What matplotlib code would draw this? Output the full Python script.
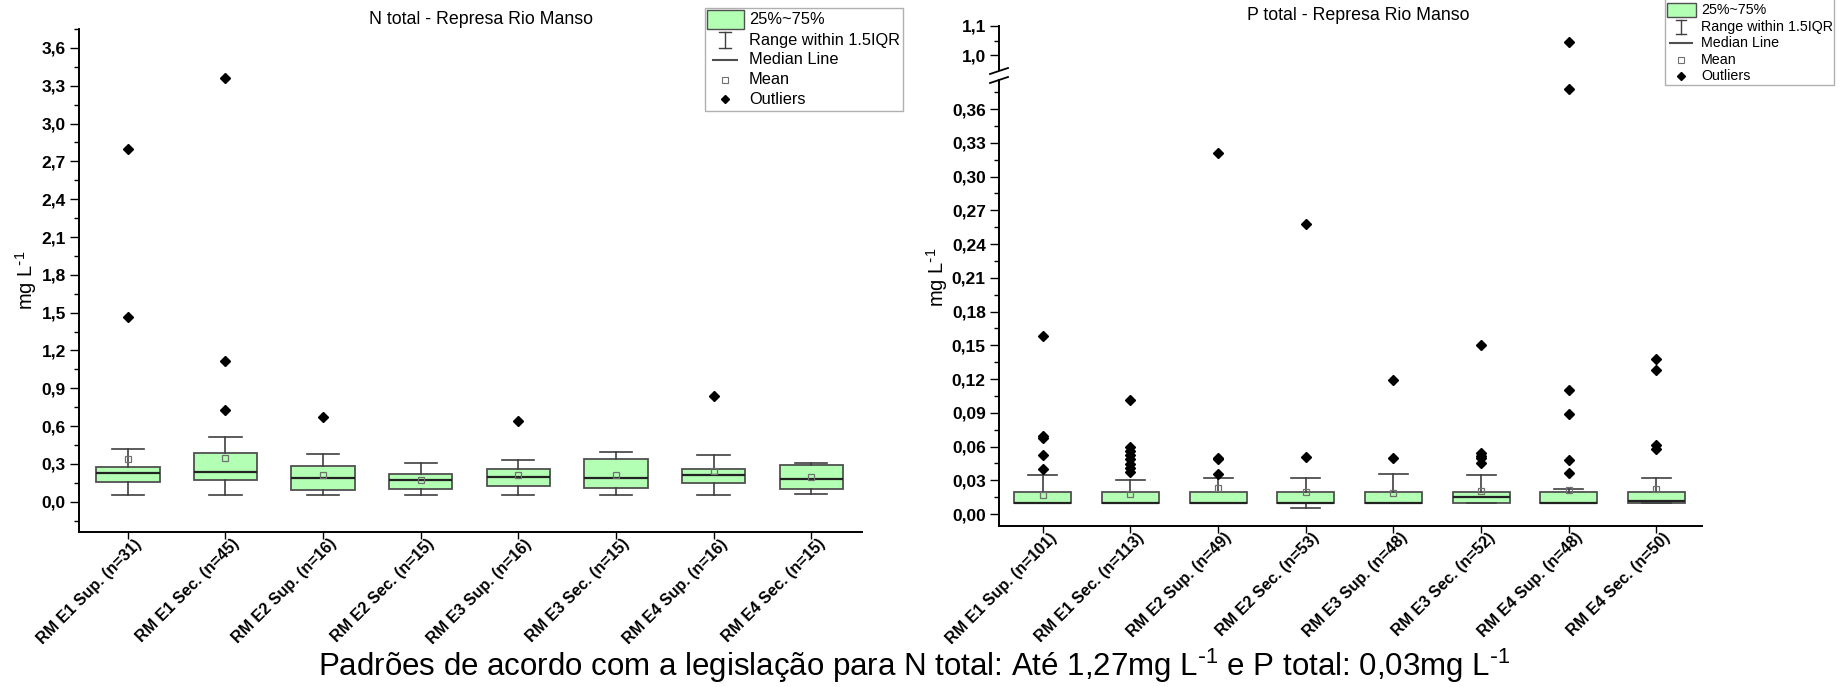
import numpy as np
import matplotlib
matplotlib.use("Agg")
import matplotlib.pyplot as plt
from matplotlib.lines import Line2D
from matplotlib.patches import Rectangle
from matplotlib.ticker import MultipleLocator, FuncFormatter
from matplotlib.transforms import ScaledTranslation

plt.rcParams['font.family'] = ['Liberation Sans', 'DejaVu Sans']
plt.rcParams['mathtext.default'] = 'regular'

# N total
n_labels = ["RM E1 Sup. (n=31)", "RM E1 Sec. (n=45)", "RM E2 Sup. (n=16)", "RM E2 Sec. (n=15)",
            "RM E3 Sup. (n=16)", "RM E3 Sec. (n=15)", "RM E4 Sup. (n=16)", "RM E4 Sec. (n=15)"]
n_q1 = [0.159, 0.175, 0.096, 0.104, 0.123, 0.112, 0.147, 0.100]
n_med = [0.225, 0.233, 0.186, 0.175, 0.194, 0.192, 0.213, 0.180]
n_q3 = [0.273, 0.388, 0.283, 0.222, 0.262, 0.342, 0.257, 0.292]
n_whislo = [0.053, 0.051, 0.050, 0.050, 0.050, 0.050, 0.050, 0.062]
n_whishi = [0.421, 0.516, 0.380, 0.310, 0.334, 0.391, 0.371, 0.311]
n_mean = [0.336, 0.348, 0.214, 0.170, 0.211, 0.211, 0.243, 0.195]
n_fliers = [[2.80, 1.462], [3.36, 1.12, 0.731], [0.671], [], [0.641], [], [0.84], []]

# P total
p_labels = ["RM E1 Sup. (n=101)", "RM E1 Sec. (n=113)", "RM E2 Sup. (n=49)", "RM E2 Sec. (n=53)",
            "RM E3 Sup. (n=48)", "RM E3 Sec. (n=52)", "RM E4 Sup. (n=48)", "RM E4 Sec. (n=50)"]
p_q1 = [0.010, 0.010, 0.010, 0.010, 0.010, 0.010, 0.010, 0.010]
p_med = [0.010, 0.010, 0.010, 0.010, 0.010, 0.015, 0.010, 0.012]
p_q3 = [0.020, 0.020, 0.020, 0.020, 0.020, 0.020, 0.020, 0.020]
p_whislo = [0.010, 0.010, 0.010, 0.005, 0.010, 0.010, 0.010, 0.010]
p_whishi = [0.0344, 0.030, 0.032, 0.032, 0.0352, 0.0343, 0.0222, 0.032]
p_mean = [0.017, 0.0177, 0.023, 0.0199, 0.0187, 0.0208, 0.021, 0.022]
p_fliers = [[0.158, 0.0697, 0.0676, 0.0526, 0.040],
            [0.101, 0.060, 0.0561, 0.0526, 0.0487, 0.0445, 0.0413, 0.0377],
            [0.321, 0.0497, 0.049, 0.0358],
            [0.258, 0.0508],
            [0.119, 0.0499],
            [0.150, 0.0544, 0.052, 0.0499, 0.045],
            [1.044, 0.378, 0.110, 0.089, 0.0477, 0.0367],
            [0.138, 0.128, 0.0615, 0.0578]]

legend_labels = ["25%~75%", "Range within 1.5IQR", "Median Line", "Mean", "Outliers"]
unit = r"mg L$^{\text{-}1}$"
caption = (r"Padrões de acordo com a legislação para N total: Até 1,27mg L$^{\text{-}1}$"
           r" e P total: 0,03mg L$^{\text{-}1}$")


def make_stats(q1, med, q3, lo, hi, mean, fl):
    return [dict(q1=a, med=b, q3=c, whislo=d, whishi=e, mean=f, fliers=g)
            for a, b, c, d, e, f, g in zip(q1, med, q3, lo, hi, mean, fl)]


box_green = '#b3ffb3'
box_edge = '#505050'
box_style = dict(widths=0.65, capwidths=0.33, patch_artist=True, showmeans=True,
                 boxprops=dict(facecolor=box_green, edgecolor=box_edge, linewidth=1.3),
                 medianprops=dict(color='#222222', linewidth=1.6),
                 whiskerprops=dict(color='#404040', linewidth=1.2),
                 capprops=dict(color='#404040', linewidth=1.2),
                 meanprops=dict(marker='s', markerfacecolor='none', markeredgecolor='#707070',
                                markersize=5, markeredgewidth=0.9),
                 flierprops=dict(marker='D', markerfacecolor='black', markeredgecolor='black',
                                 markersize=5))

W, H = 1849, 687
fig = plt.figure(figsize=(W / 100, H / 100), dpi=100)


def px(x0, y0, x1, y1):
    return [x0 / W, 1 - y1 / H, (x1 - x0) / W, (y1 - y0) / H]


def style_axis(ax, fmt):
    for s in ['top', 'right']:
        ax.spines[s].set_visible(False)
    for s in ['left', 'bottom']:
        ax.spines[s].set_linewidth(1.4)
    ax.yaxis.set_major_formatter(FuncFormatter(lambda v, p: fmt.format(v).replace('.', ',')))
    ax.tick_params(axis='y', which='major', direction='out', length=6.5, width=1.0, labelsize=12.5, pad=3)
    ax.tick_params(axis='y', which='minor', direction='out', length=3.4, width=1.0)
    ax.tick_params(axis='x', which='major', direction='out', length=4.8, width=1.0, pad=2)
    for lab in ax.get_yticklabels():
        lab.set_fontweight('bold')


def set_xlabels(ax, labels):
    ax.set_xticks(range(1, 9))
    ax.set_xticklabels(labels, rotation=45, ha='right', va='top', rotation_mode='anchor',
                       fontweight='bold', fontsize=11.5)
    shift = ScaledTranslation(6 / 100, 5 / 100, fig.dpi_scale_trans)
    for lab in ax.get_xticklabels():
        lab.set_transform(lab.get_transform() + shift)
    ax.set_xlim(0.5, 8.52)


# ---- left panel: N total
axn = fig.add_axes(px(79, 29, 862, 532))
axn.bxp(make_stats(n_q1, n_med, n_q3, n_whislo, n_whishi, n_mean, n_fliers),
        positions=range(1, 9), **box_style)
axn.set_ylim(-0.24, 3.75)
axn.yaxis.set_major_locator(MultipleLocator(0.3))
axn.yaxis.set_minor_locator(MultipleLocator(0.15))
style_axis(axn, '{:.1f}')
set_xlabels(axn, n_labels)

# ---- right panel: P total (broken axis)
axp = fig.add_axes(px(999, 80, 1702, 525.7))
axu = fig.add_axes(px(999, 26, 1702, 70))
p_stats = make_stats(p_q1, p_med, p_q3, p_whislo, p_whishi, p_mean, p_fliers)
for a in (axp, axu):
    a.bxp(p_stats, positions=range(1, 9), **box_style)
axp.set_ylim(-0.0104, 0.3858)
axp.yaxis.set_major_locator(MultipleLocator(0.03))
axp.yaxis.set_minor_locator(MultipleLocator(0.015))
style_axis(axp, '{:.2f}')
set_xlabels(axp, p_labels)

axu.set_ylim(0.9503, 1.1)
axu.yaxis.set_major_locator(MultipleLocator(0.1))
axu.yaxis.set_minor_locator(MultipleLocator(0.05))
style_axis(axu, '{:.1f}')
axu.spines['bottom'].set_visible(False)
axu.set_xticks([])
axu.set_xlim(0.5, 8.52)

# break marks on the P axis
for yc in (71, 80):
    fig.add_artist(Line2D([990 / W, 1008 / W], [1 - (yc + 3) / H, 1 - (yc - 3) / H],
                          color='black', lw=1.3, transform=fig.transFigure))

# titles, axis labels, caption
fig.text(481 / W, 1 - 19 / H, "N total - Represa Rio Manso", ha='center', va='center', fontsize=12.8)
fig.text(1358 / W, 1 - 16 / H, "P total - Represa Rio Manso", ha='center', va='center', fontsize=12.8)
fig.text(26 / W, 1 - 280 / H, unit, rotation=90, ha='center', va='center', fontsize=14.5)
fig.text(937 / W, 1 - 277 / H, unit, rotation=90, ha='center', va='center', fontsize=14.5)
fig.text(914 / W, 1 - 666 / H, caption, ha='center', va='center', fontsize=22.5)


# legends drawn by hand in figure pixels (y measured from the top)
def fx(x):
    return x / W


def fy(y):
    return 1 - y / H


def draw_legend(frame, rows, patch, hx, tx, fs, ibar, med_half, ms):
    x0, y0, x1, y1 = frame
    tf = fig.transFigure
    fig.add_artist(Rectangle((fx(x0), fy(y1)), (x1 - x0) / W, (y1 - y0) / H, transform=tf,
                             facecolor='white', edgecolor='#b0b0b0', lw=1.0, zorder=5))
    p0, q0, p1, q1 = patch
    fig.add_artist(Rectangle((fx(p0), fy(q1)), (p1 - p0) / W, (q1 - q0) / H, transform=tf,
                             facecolor=box_green, edgecolor=box_edge, lw=1.0, zorder=6))
    yr = rows[1]
    hh, cw = ibar
    for xs, ys in [([hx, hx], [yr - hh, yr + hh]), ([hx - cw, hx + cw], [yr - hh, yr - hh]),
                   ([hx - cw, hx + cw], [yr + hh, yr + hh])]:
        fig.add_artist(Line2D([fx(v) for v in xs], [fy(v) for v in ys], color='#404040',
                              lw=1.0, transform=tf, zorder=6))
    fig.add_artist(Line2D([fx(hx - med_half), fx(hx + med_half)], [fy(rows[2])] * 2,
                          color='#505050', lw=1.5, transform=tf, zorder=6))
    fig.add_artist(Line2D([fx(hx)], [fy(rows[3])], marker='s', markerfacecolor='none',
                          markeredgecolor='#707070', markersize=ms, markeredgewidth=0.8,
                          transform=tf, zorder=6))
    fig.add_artist(Line2D([fx(hx)], [fy(rows[4])], marker='D', color='black',
                          markersize=ms, transform=tf, zorder=6))
    for lab, yr in zip(legend_labels, rows):
        fig.text(fx(tx), fy(yr), lab, ha='left', va='center', fontsize=fs, zorder=7)


draw_legend((705, 8, 903, 111), [20, 40, 60, 80, 99], (707, 10, 744, 29), 725, 749, 11.8,
            (8, 6), 12, 4.5)
draw_legend((1665, -2, 1834, 85), [10, 26.5, 43, 59.5, 76], (1667, 3, 1696, 17), 1681, 1701, 10.3,
            (7, 5), 11, 4)

fig.savefig("out.png", dpi=100)
